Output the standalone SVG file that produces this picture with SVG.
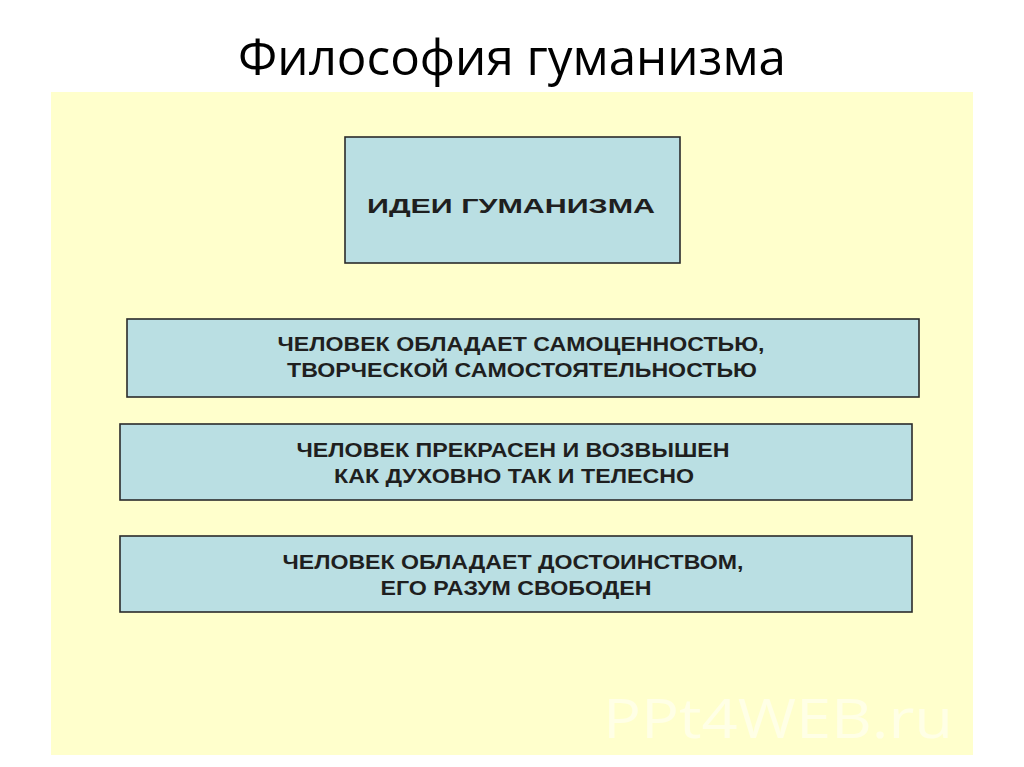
<svg xmlns="http://www.w3.org/2000/svg" width="1024" height="767" viewBox="0 0 1024 767">
<style>
.box{fill:#badfe3;stroke:#2b2b2b;stroke-width:1.6}
.t{font-family:"Liberation Sans",Arial,sans-serif;font-weight:bold;font-size:20px;fill:#1f1f1f;text-anchor:middle}
</style>
<rect width="1024" height="767" fill="#ffffff"/>
<text x="512" y="75" font-family="'Open Sans','Noto Sans',sans-serif" font-size="50" fill="#000" text-anchor="middle" textLength="548" lengthAdjust="spacingAndGlyphs">Философия гуманизма</text>
<rect x="51" y="92" width="922" height="663" fill="#ffffcc"/>
<text x="778" y="738" font-family="'Open Sans','Noto Sans',sans-serif" font-size="54" fill="#ffffff" fill-opacity="0.5" text-anchor="middle" textLength="350" lengthAdjust="spacingAndGlyphs">PPt4WEB.ru</text>
<g id="connectors"></g>
<g id="top">
<rect class="box" x="345" y="137" width="335" height="126"/>
<text class="t" x="511" y="213" font-size="27" textLength="288" lengthAdjust="spacingAndGlyphs">ИДЕИ ГУМАНИЗМА</text>
</g>
<g id="idea1">
<rect class="box" x="127" y="319" width="792" height="78"/>
<text class="t" x="521" y="351" textLength="487" lengthAdjust="spacingAndGlyphs">ЧЕЛОВЕК ОБЛАДАЕТ САМОЦЕННОСТЬЮ,</text>
<text class="t" x="522" y="377" textLength="470" lengthAdjust="spacingAndGlyphs">ТВОРЧЕСКОЙ САМОСТОЯТЕЛЬНОСТЬЮ</text>
</g>
<g id="idea2">
<rect class="box" x="120" y="424" width="792" height="76"/>
<text class="t" x="513" y="457" textLength="433" lengthAdjust="spacingAndGlyphs">ЧЕЛОВЕК ПРЕКРАСЕН И ВОЗВЫШЕН</text>
<text class="t" x="514" y="483" textLength="360" lengthAdjust="spacingAndGlyphs">КАК ДУХОВНО ТАК И ТЕЛЕСНО</text>
</g>
<g id="idea3">
<rect class="box" x="120" y="536" width="792" height="76"/>
<text class="t" x="513" y="569" textLength="461" lengthAdjust="spacingAndGlyphs">ЧЕЛОВЕК ОБЛАДАЕТ ДОСТОИНСТВОМ,</text>
<text class="t" x="516" y="595" textLength="271" lengthAdjust="spacingAndGlyphs">ЕГО РАЗУМ СВОБОДЕН</text>
</g>
</svg>
